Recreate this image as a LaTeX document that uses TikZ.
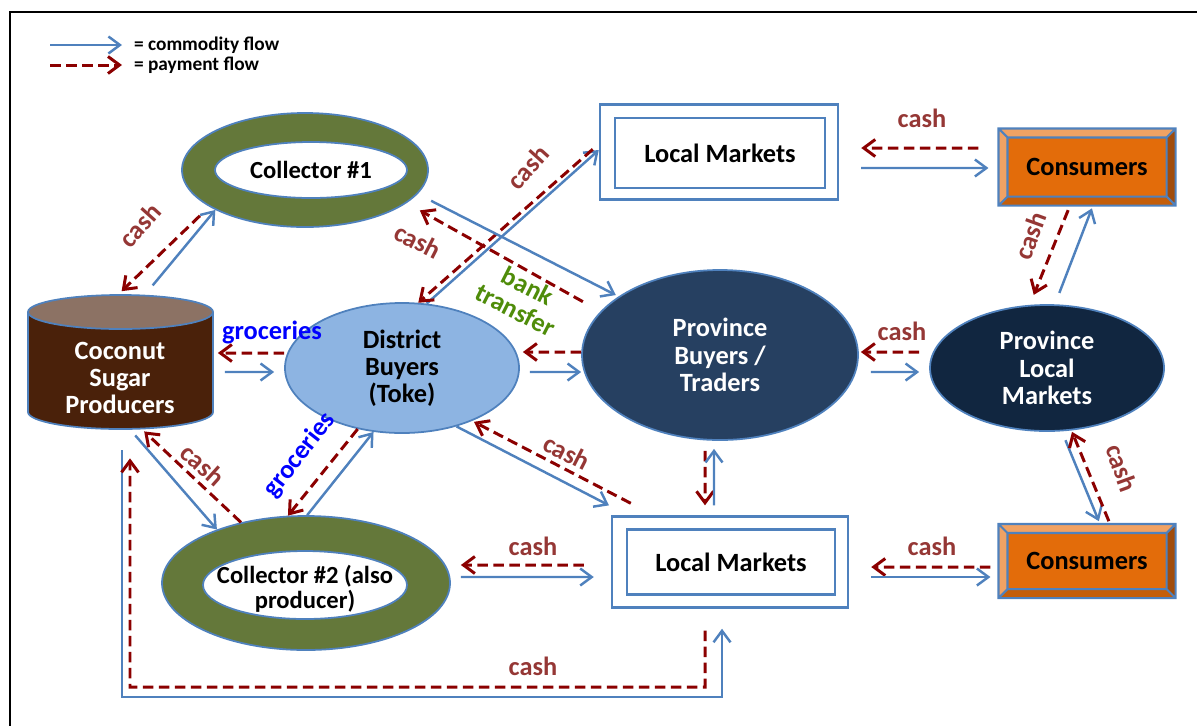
\documentclass[tikz,border=0pt]{standalone}
\usepackage{fontspec}
\setmainfont{Carlito}
\usetikzlibrary{shapes.geometric,arrows.meta,calc}

\definecolor{flowblue}{RGB}{79,129,189}
\definecolor{cashred}{RGB}{139,0,0}
\definecolor{cashtext}{RGB}{149,55,53}
\definecolor{ringgreen}{RGB}{100,120,58}
\definecolor{sugarbrown}{RGB}{74,33,10}
\definecolor{sugartop}{RGB}{140,114,100}
\definecolor{districtblue}{RGB}{141,180,226}
\definecolor{provblue}{RGB}{38,64,97}
\definecolor{marketnavy}{RGB}{17,38,64}
\definecolor{consorange}{RGB}{227,108,10}
\definecolor{bevlight}{RGB}{240,162,100}
\definecolor{bevmid}{RGB}{196,94,10}
\definecolor{bevdark}{RGB}{160,76,12}
\definecolor{bankgreen}{RGB}{79,140,10}

% bevelled look of the consumer boxes
\newcommand{\consbevel}[1]{%
  \fill[bevlight] (#1.north west) -- (#1.north east) -- ([shift={(-1.8mm,-1.8mm)}]#1.north east) -- ([shift={(1.8mm,-1.8mm)}]#1.north west) -- cycle;
  \fill[bevlight] (#1.north west) -- (#1.south west) -- ([shift={(1.8mm,1.8mm)}]#1.south west) -- ([shift={(1.8mm,-1.8mm)}]#1.north west) -- cycle;
  \fill[bevdark] (#1.north east) -- (#1.south east) -- ([shift={(-1.8mm,1.8mm)}]#1.south east) -- ([shift={(-1.8mm,-1.8mm)}]#1.north east) -- cycle;
  \fill[bevmid] (#1.south west) -- (#1.south east) -- ([shift={(-1.8mm,1.8mm)}]#1.south east) -- ([shift={(1.8mm,1.8mm)}]#1.south west) -- cycle;
  \draw[flowblue, line width=1.2pt] (#1.north west) rectangle (#1.south east)
    ([shift={(1.8mm,-1.8mm)}]#1.north west) rectangle ([shift={(-1.8mm,1.8mm)}]#1.south east)
    (#1.north west) -- ([shift={(1.8mm,-1.8mm)}]#1.north west)
    (#1.north east) -- ([shift={(-1.8mm,-1.8mm)}]#1.north east)
    (#1.south west) -- ([shift={(1.8mm,1.8mm)}]#1.south west)
    (#1.south east) -- ([shift={(-1.8mm,1.8mm)}]#1.south east);
}

\begin{document}
\begin{tikzpicture}[x=0.2mm, y=-0.2mm,
    txt/.style={font=\bfseries\fontsize{15}{15.5}\selectfont, align=center},
    ring/.style={ellipse, draw=flowblue, line width=1pt, fill=ringgreen, inner sep=0pt},
    hole/.style={ellipse, draw=flowblue, line width=1pt, fill=white, inner sep=0pt, txt, font=\bfseries\fontsize{14}{14}\selectfont},
    blob/.style={ellipse, draw=flowblue, line width=1pt, inner sep=0pt, txt},
    market/.style={rectangle, draw=flowblue, line width=1.4pt, fill=white},
    consbox/.style={rectangle, draw=flowblue, line width=1.2pt, fill=consorange, txt, minimum width=35mm},
    flow/.style={draw=flowblue, line width=1.4pt, -{Straight Barb[length=2.3mm,width=3.4mm]}},
    pay/.style={draw=cashred, line width=1.7pt, dash pattern=on 2.1mm off 1.1mm, -{Straight Barb[length=2.3mm,width=3.4mm]}},
    lbl/.style={txt, text=cashtext},
    legtext/.style={font=\bfseries\fontsize{11}{12}\selectfont, anchor=west, inner sep=1pt}]
    \useasboundingbox (0,0) rectangle (1197,725);

    % Frame
    \draw[line width=1.3pt] (10,740) -- (10,12) -- (1210,12);

    % Legend
    \coordinate (legflow) at (50,45);
    \coordinate (legpay) at (50,65);
    \node[legtext] (legc) at (132,45) {= commodity flow};
    \node[legtext] (legp) at (132,65) {= payment flow};
    \draw[flow, shorten >=2mm] (legflow) -- (legc.west);
    \draw[pay, shorten >=2mm] (legpay) -- (legp.west);

    % Coconut sugar producers (cylinder)
    \fill[sugarbrown] (28,312) -- (28,412) arc[start angle=180, end angle=360, x radius=18.5mm, y radius=3.4mm] -- (213,312) -- cycle;
    \draw[flowblue, line width=1pt] (28,312) -- (28,412) arc[start angle=180, end angle=360, x radius=18.5mm, y radius=3.4mm] -- (213,312);
    \filldraw[fill=sugartop, draw=flowblue, line width=1pt] (120.5,312) ellipse [x radius=18.5mm, y radius=3.4mm];
    \node[minimum width=37mm, minimum height=26.8mm,
          label={[txt, text=white, yshift=-3.2mm]center:Coconut\\Sugar\\Producers}] (coco) at (120,362) {};

    % Collectors
    \node[ring, minimum width=49.2mm, minimum height=22.8mm] (col1) at (305,170) {};
    \node[hole, minimum width=38.4mm, minimum height=11.2mm] (col1in) at (311,170) {Collector \#1};
    \node[ring, minimum width=57.6mm, minimum height=26.8mm] (col2) at (306,583) {};
    \node[hole, minimum width=40.8mm, minimum height=13.6mm,
          label={[font=\bfseries\fontsize{14}{14.5}\selectfont, align=center, yshift=-0.8mm]center:Collector \#2 (also\\producer)}] (col2in) at (305,585) {};

    % Buyers and markets
    \node[blob, fill=districtblue, minimum width=46.8mm, minimum height=26mm] (dist) at (402,368) {District\\Buyers\\(Toke)};
    \node[blob, fill=provblue, text=white, minimum width=55.2mm, minimum height=34mm] (prov) at (720,355) {Province\\Buyers / \\Traders};
    \node[blob, fill=marketnavy, text=white, minimum width=46.8mm, minimum height=25.2mm] (plm) at (1047,368) {Province\\Local\\Markets};

    \node[market, minimum width=47.6mm, minimum height=19mm] (lmtop) at (719,152) {};
    \node[market, minimum width=42mm, minimum height=14mm, txt] (lmtopin) at (720,153) {Local Markets};
    \node[market, minimum width=47.2mm, minimum height=18.2mm] (lmbot) at (730,562) {};
    \node[market, minimum width=41.6mm, minimum height=13mm, txt] (lmbotin) at (731,562) {Local Markets};

    % Consumers
    \node[consbox, minimum height=15mm] (constop) at (1087,167) {Consumers};
    \consbevel{constop}
    \node[consbox, minimum height=14.4mm] (consbot) at (1087,561) {Consumers};
    \consbevel{consbot}

    % Flows: coconut - collector 1
    \draw[flow, shorten <=2.4mm] ([xshift=5mm]coco.north) -- (col1.204);
    \draw[pay, shorten <=2.6mm, shorten >=1mm] (col1.201) -- ([xshift=-0.4mm]coco.north);
    % coconut - district
    \draw[pay, shorten >=1mm] ([yshift=3mm]dist.west) -- ([yshift=1.8mm]coco.east);
    \draw[flow, shorten <=2.4mm, shorten >=2mm] ([yshift=-2mm]coco.east) -- ([yshift=-0.8mm]dist.west);
    % coconut - collector 2
    \draw[flow, shorten <=1.6mm] ([xshift=2mm]coco.south) -- (col2.149);
    \draw[pay, shorten >=0.6mm] (col2.137) -- ([xshift=4.4mm]coco.south);
    % district - collector 2
    \draw[flow] (col2.89) -- (dist.246);
    \draw[pay] (dist.234) -- (col2.105);
    % district - local markets (top)
    \draw[flow] (dist.69) -- ([yshift=0.4mm]lmtop.west);
    \draw[pay, shorten <=1.6mm] ([yshift=1.6mm]lmtop.west) -- (dist.76);
    % collector 1 - province
    \draw[flow, shorten <=3mm, shorten >=0.6mm] (col1.-12) -- (prov.150);
    \draw[pay, shorten <=4mm, shorten >=3mm] (prov.160) -- (col1.-18);
    % district - province
    \draw[pay, shorten >=0.6mm] ([yshift=0.6mm]prov.west) -- ([yshift=3.2mm]dist.east);
    \draw[flow, shorten <=2mm] ([yshift=-0.8mm]dist.east) -- ([yshift=-3.4mm]prov.west);
    % province - province local markets
    \draw[pay, shorten <=2mm, shorten >=0.4mm] ([yshift=3.2mm]plm.west) -- ([yshift=0.6mm]prov.east);
    \draw[flow, shorten <=2.4mm, shorten >=2mm] ([yshift=-3.4mm]prov.east) -- ([yshift=-0.8mm]plm.west);
    % province local markets - consumers
    \draw[flow, shorten <=2.4mm, shorten >=0.6mm] ([xshift=1.6mm]plm.north) -- ([xshift=1.2mm]constop.south);
    \draw[pay, shorten <=1mm, shorten >=2mm] ([xshift=-3.4mm]constop.south) -- ([xshift=-3.4mm]plm.north);
    \draw[flow, shorten <=1.8mm, shorten >=0.6mm] ([xshift=3mm]plm.south) -- ([xshift=2.6mm]consbot.north);
    \draw[pay, shorten <=0.6mm] ([xshift=4.6mm]consbot.north) -- ([xshift=5mm]plm.south);
    % local markets - consumers
    \draw[pay, shorten <=4mm, shorten >=4.4mm] ([yshift=3.8mm]constop.west) -- ([yshift=0.8mm]lmtop.east);
    \draw[flow, shorten <=4.4mm, shorten >=2mm] ([yshift=-3.2mm]lmtop.east) -- ([yshift=-0.2mm]constop.west);
    \draw[pay, shorten <=1.6mm, shorten >=4.4mm] ([yshift=-1.2mm]consbot.west) -- ([yshift=-1mm]lmbot.east);
    \draw[flow, shorten <=4.4mm, shorten >=1.6mm] ([yshift=-3mm]lmbot.east) -- ([yshift=-3.2mm]consbot.west);
    % district - local markets (bottom)
    \draw[flow, shorten >=0.4mm] (dist.-47) -- ([yshift=1.8mm]lmbot.north west);
    \draw[pay, shorten >=0.4mm] ([shift={(4mm,2.4mm)}]lmbot.north west) -- (dist.-37);
    % province - local markets (bottom)
    \draw[pay, shorten <=2mm, shorten >=2mm] ([xshift=-3mm]prov.south) -- ([xshift=-5mm]lmbot.north);
    \draw[flow, shorten <=2mm, shorten >=1.6mm] ([xshift=-3.2mm]lmbot.north) -- ([xshift=-1.2mm]prov.south);
    % collector 2 - local markets (bottom)
    \draw[pay, shorten <=5.4mm, shorten >=2mm] ([yshift=-0.6mm]lmbot.west) -- ([yshift=3.6mm]col2.east);
    \draw[flow, shorten <=2mm, shorten >=3.4mm] ([yshift=1.2mm]col2.east) -- ([yshift=-3mm]lmbot.west);
    % coconut - local markets (bottom), round the bottom
    \coordinate (loopb) at (122,697);
    \coordinate (loopr) at (705,687);
    \draw[flow, shorten <=4.2mm, shorten >=4mm] ([xshift=0.4mm]coco.south) -- (loopb) -| ([xshift=-1.6mm]lmbot.south);
    \draw[pay, shorten <=4.4mm, shorten >=5.8mm] ([xshift=-5mm]lmbot.south) -- (loopr) -| ([xshift=2mm]coco.south);

    % Labels
    \node[lbl, rotate=48] (cash1) at (140,225) {cash};
    \node[txt, text=blue] (groc1) at (272,332) {groceries};
    \node[lbl, rotate=-42] (cash2) at (203,465) {cash};
    \node[txt, text=blue, rotate=52] (groc2) at (300,455) {groceries};
    \node[lbl, rotate=48] (cash3) at (528,167) {cash};
    \node[lbl, rotate=-27] (cash4) at (418,241) {cash};
    \node[txt, text=bankgreen, rotate=-27, font=\bfseries\fontsize{15}{15.5}\selectfont] (bank) at (522,298) {bank\\transfer};
    \node[lbl] (cash5) at (902,331) {cash};
    \node[lbl, rotate=70] (cash6) at (1030,236) {cash};
    \node[lbl] (cash7) at (922,118) {cash};
    \node[lbl, rotate=-27] (cash8) at (567,452) {cash};
    \node[lbl] (cash9) at (533,546) {cash};
    \node[lbl] (cash10) at (932,546) {cash};
    \node[lbl, rotate=-70] (cash11) at (1122,468) {cash};
    \node[lbl] (cash12) at (533,666) {cash};
\end{tikzpicture}
\end{document}
